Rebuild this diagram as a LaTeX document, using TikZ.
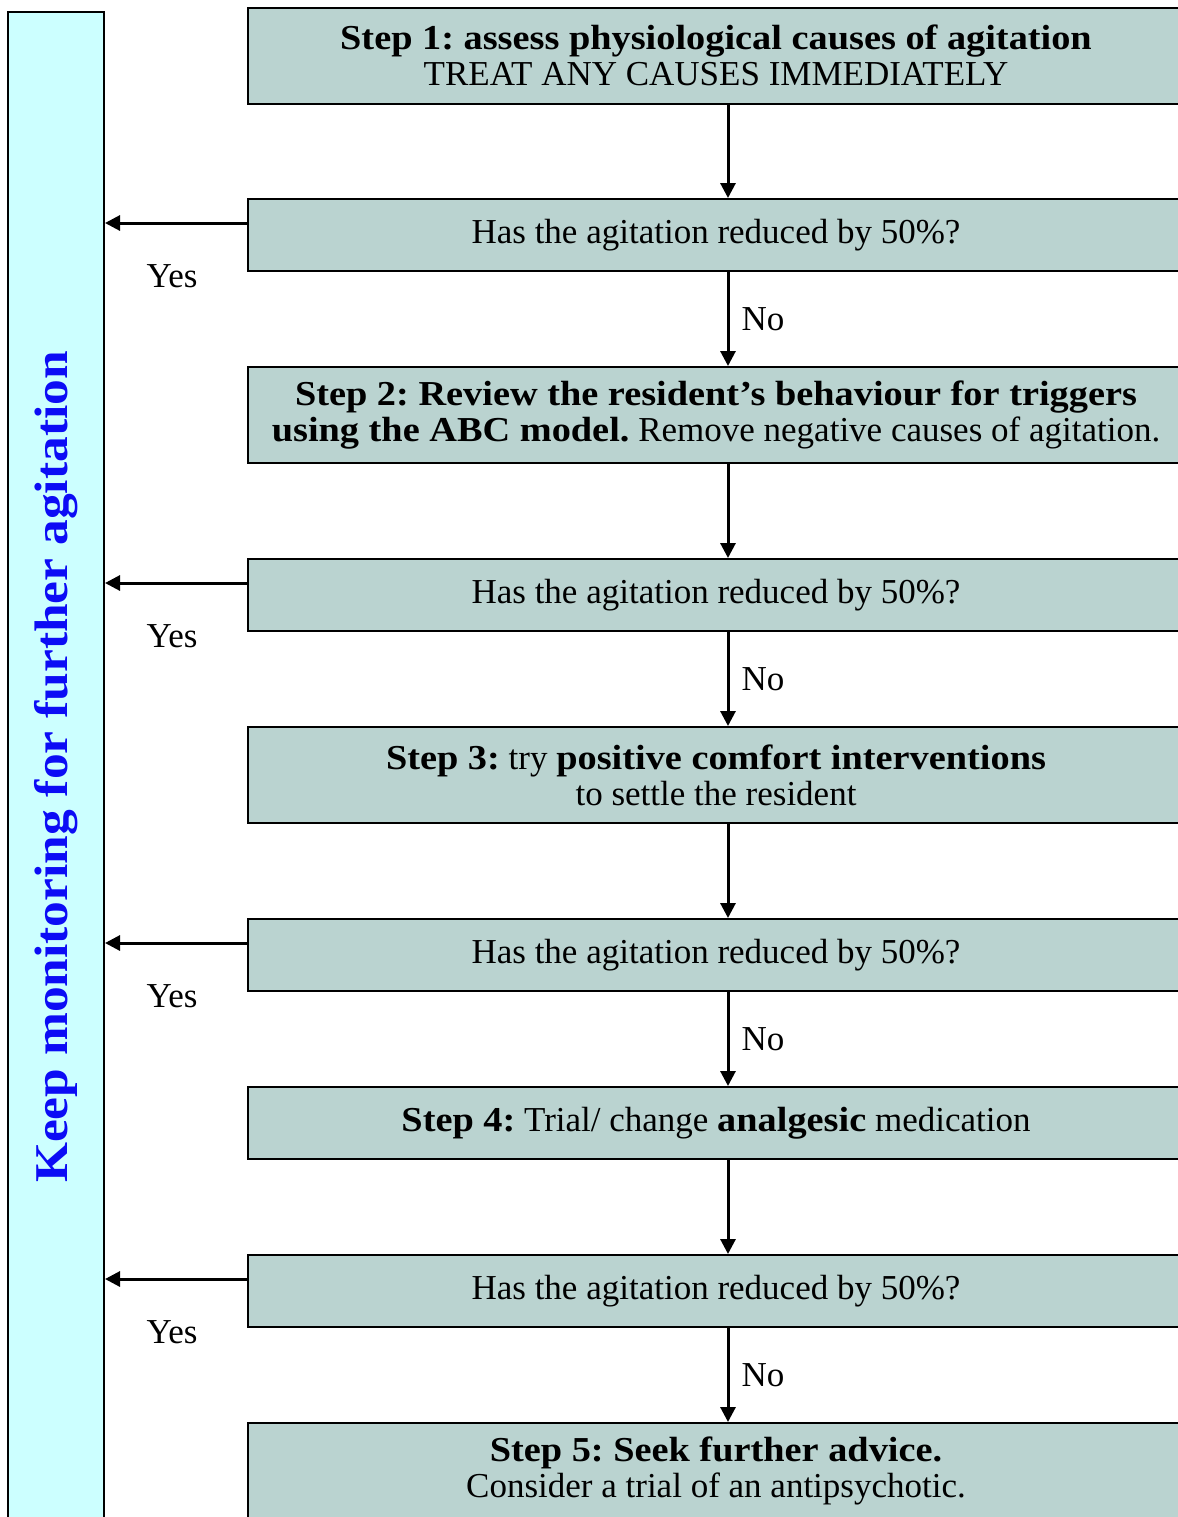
\documentclass[tikz,border=0pt]{standalone}
\usepackage{fontspec}
\setmainfont{Liberation Serif}[BoldFeatures={FakeStretch=1.095}]
\frenchspacing
\usetikzlibrary{arrows.meta}
\definecolor{sage}{RGB}{186,211,208}
\definecolor{paleaqua}{RGB}{204,255,255}
\definecolor{keepblue}{RGB}{12,12,245}
\def\boxfont{\fontsize{17.5}{18}\selectfont}
\def\barfont{\fontsize{23.5}{26}\selectfont\bfseries}
\tikzstyle{stepbox}=[draw,line width=1pt,fill=sage,minimum width=468pt,
                  minimum height=48pt,inner sep=0pt,align=center,font=\boxfont]
\tikzstyle{question}=[stepbox,minimum height=36pt]
\tikzstyle{keepbar}=[draw,line width=1pt,fill=paleaqua,rotate=90,text=keepblue,
                  minimum width=755pt,minimum height=48pt,inner sep=0pt,font=\barfont]
\tikzstyle{flow}=[line width=1.5pt,-{Triangle[width=7.5pt,length=7.5pt]}]
\tikzstyle{answer}=[inner sep=0pt,font=\boxfont]

\begin{document}
\begin{tikzpicture}[x=0.5pt,y=-0.5pt]
  \useasboundingbox (0,0) rectangle (1178,1517);
  \clip (0,0) rectangle (1178,1517);
  % Place the monitoring bar
  \node[keepbar] (keep) at (56,767) {Keep monitoring for further agitation};

  % Place steps and questions
  \node[stepbox] (s1) at (716,55.5) {\textbf{Step 1: assess physiological causes of agitation}\\
    TREAT ANY CAUSES IMMEDIATELY};
  \node[question] (q1) at (716,235) {Has the agitation reduced by 50\%?};
  \node[stepbox] (s2) at (716,415) {\textbf{Step 2: Review the resident’s behaviour for triggers}\\
    \textbf{using the ABC model.} Remove negative causes of agitation.};
  \node[question] (q2) at (716,595) {Has the agitation reduced by 50\%?};
  \node[stepbox] (s3) at (716,775) {\textbf{Step 3:} try \textbf{positive comfort interventions}\\
    to settle the resident};
  \node[question] (q3) at (716,955) {Has the agitation reduced by 50\%?};
  \node[question] (s4) at (716,1123) {\textbf{Step 4:} Trial/ change \textbf{analgesic} medication};
  \node[question] (q4) at (716,1291) {Has the agitation reduced by 50\%?};
  \node[stepbox] (s5) at (716,1471) {\textbf{Step 5: Seek further advice.}\\
    Consider a trial of an antipsychotic.};

  \coordinate (spine) at (728,0);

  % Step to question
  \foreach \src/\dst in {s1/q1, s2/q2, s3/q3, s4/q4}
    \draw[flow] (\src.south -| spine) -- (\dst.north -| spine);
  % No edges
  \foreach \src/\dst in {q1/s2, q2/s3, q3/s4, q4/s5}
    \draw[flow] (\src.south -| spine) -- node[answer,right=6pt] {No} (\dst.north -| spine);
  % Yes edges
  \foreach \q in {q1,q2,q3,q4}
    \draw[flow] ([yshift=6pt]\q.west) -- node[answer,below=20pt,xshift=-2pt] {Yes}
      ([yshift=6pt]\q.west -| keep.south);
\end{tikzpicture}
\end{document}
